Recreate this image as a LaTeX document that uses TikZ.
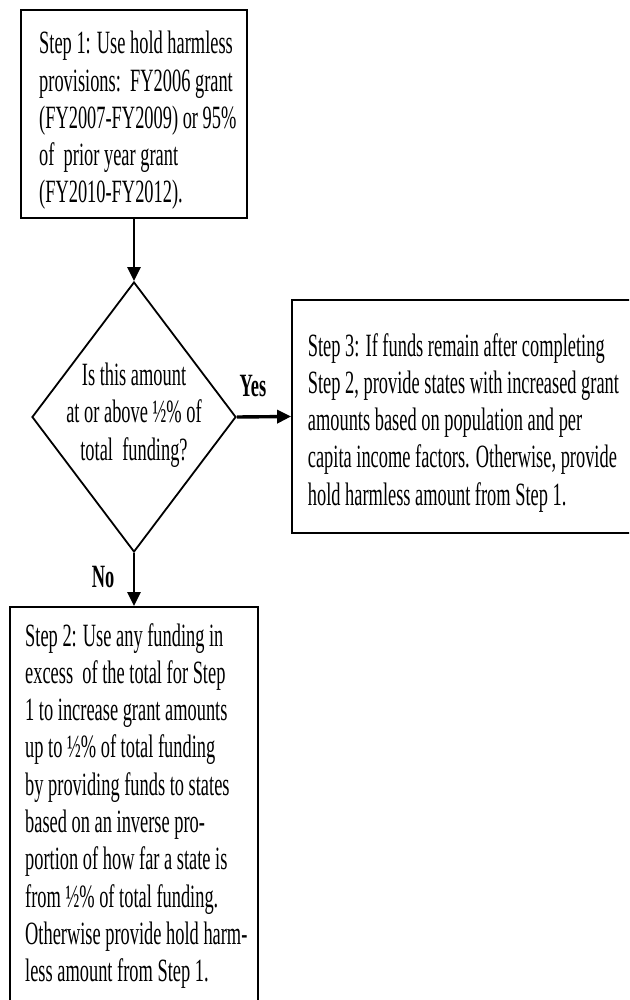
\documentclass[tikz,border=0pt]{standalone}
\usepackage{fontspec}
\setmainfont{Liberation Serif}[FakeStretch=0.566]
\usetikzlibrary{arrows.meta,shapes.geometric}
\begin{document}
\begin{tikzpicture}[x=1pt,y=-1pt,
  frame/.style={draw,line width=1.8pt,rectangle,inner sep=0pt},
  txt/.style={inner sep=0pt,anchor=north west,align=left,
    font=\fontsize{32.5}{37.3}\selectfont,
    execute at begin node={\rule{0pt}{24pt}}},
  lbl/.style={inner sep=0pt,font=\fontsize{32.5}{37.3}\selectfont\bfseries},
  arr/.style={line width=2.4pt,-{Triangle[length=14pt,width=13pt]}}]
\clip (0,0) rectangle (629,1000);
\fill[white] (0,0) rectangle (629,1000);
% boxes
\node[frame,minimum width=226pt,minimum height=208pt] (b1) at (134,114) {};
\node[frame,diamond,minimum width=204pt,minimum height=270pt] (dec) at (134,417) {};
\node[frame,minimum width=348pt,minimum height=233pt] (b3) at (466,416.5) {};
\node[frame,minimum width=248pt,minimum height=403pt] (b2) at (134,808.5) {};
% texts
\node[txt] (t1) at (39,31) {Step 1: Use hold harmless\\provisions:\ \ FY2006 grant\\(FY2007-FY2009) or 95\%\\of\ \ prior year grant\\(FY2010-FY2012).};
\node[txt,anchor=center,align=center,execute at begin node={}] (td) at (134,415) {Is this amount\\at or above ½\% of\\total\ \ funding?};
\node[txt] (t3) at (307.7,333) {Step 3: If funds remain after completing\\Step 2, provide states with increased grant\\amounts based on population and per\\capita income factors. Otherwise, provide\\hold harmless amount from Step 1.};
\node[txt] (t2) at (25,623) {Step 2: Use any funding in\\excess\ \ of the total for Step\\1 to increase grant amounts\\up to ½\% of total funding\\by providing funds to states\\based on an inverse pro-\\portion of how far a state is\\from ½\% of total funding.\\Otherwise provide hold harm-\\less amount from Step 1.};
% connectors
\draw[arr] (b1.south) -- (dec.north);
\draw[arr,line width=3.4pt] (dec.east) -- (b3.west);
\draw[arr] (dec.south) -- (b2.north);
% labels
\node[lbl] (yes) at (253,386) {Yes};
\node[lbl] (no) at (103,577) {No};
\end{tikzpicture}
\end{document}
